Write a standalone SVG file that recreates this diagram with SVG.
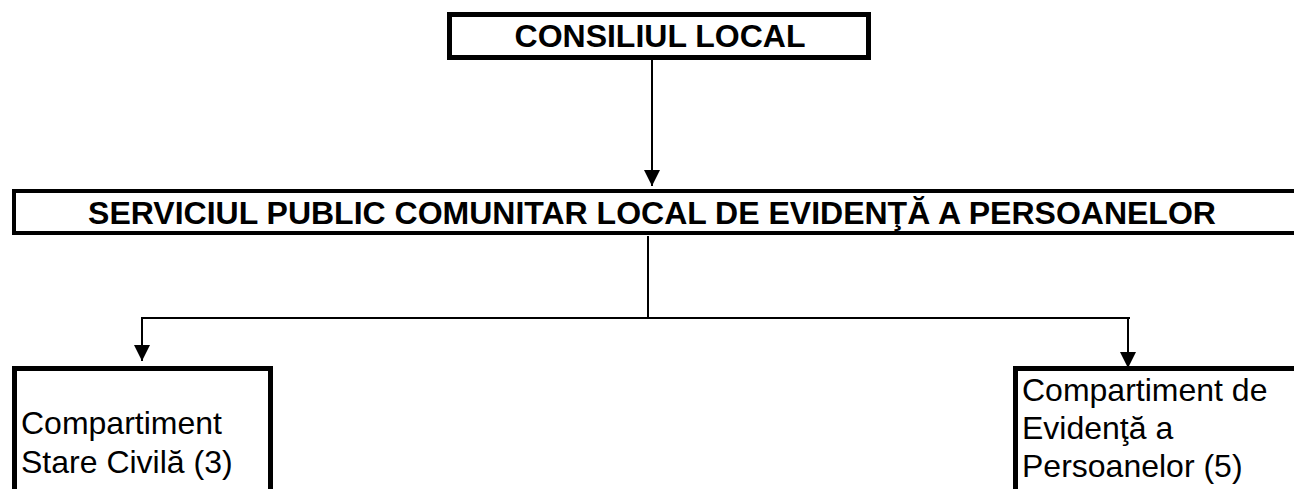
<svg xmlns="http://www.w3.org/2000/svg" width="1294" height="489" viewBox="0 0 1294 489">
<style>
.box{fill:#fff;stroke:#000;stroke-width:5}
.hdr{font-family:"Liberation Sans",Arial,sans-serif;font-weight:bold;font-size:32px;fill:#000}
.lbl{font-family:"Liberation Sans",Arial,sans-serif;font-size:32px;fill:#000}
.con{stroke:#000;stroke-width:2;fill:none}
</style>
<defs>
<marker id="ah" markerWidth="16" markerHeight="16" viewBox="0 0 16 16" refX="16" refY="8" orient="auto" markerUnits="userSpaceOnUse">
<path d="M0,0 L16,8 L0,16 Z" fill="#000"/>
</marker>
</defs>
<rect width="1294" height="489" fill="#fff"/>
<g id="connectors">
<line class="con" x1="652" y1="60" x2="652" y2="186" marker-end="url(#ah)"/>
<line class="con" x1="648" y1="236" x2="648" y2="318"/>
<line class="con" x1="142" y1="318" x2="1130" y2="318"/>
<line class="con" x1="142" y1="317" x2="142" y2="361" marker-end="url(#ah)"/>
<line class="con" x1="1128" y1="317" x2="1128" y2="368" marker-end="url(#ah)"/>
</g>
<g id="consiliul-local">
<rect class="box" x="449.5" y="14.5" width="419" height="43"/>
<text class="hdr" x="660" y="47" text-anchor="middle">CONSILIUL LOCAL</text>
</g>
<g id="serviciul-public">
<rect class="box" x="14" y="191" width="1300" height="42" style="stroke-width:4"/>
<text class="hdr" x="652" y="224" text-anchor="middle">SERVICIUL PUBLIC COMUNITAR LOCAL DE EVIDENŢĂ A PERSOANELOR</text>
</g>
<g id="stare-civila">
<rect class="box" x="14.5" y="368.5" width="256" height="200"/>
<text class="lbl" x="21" y="434">Compartiment</text>
<text class="lbl" x="21" y="473">Stare Civilă (3)</text>
</g>
<g id="evidenta-persoanelor">
<rect class="box" x="1015.5" y="368.5" width="400" height="200"/>
<text class="lbl" x="1022" y="401">Compartiment de</text>
<text class="lbl" x="1022" y="439">Evidenţă a</text>
<text class="lbl" x="1022" y="477">Persoanelor (5)</text>
</g>
</svg>
